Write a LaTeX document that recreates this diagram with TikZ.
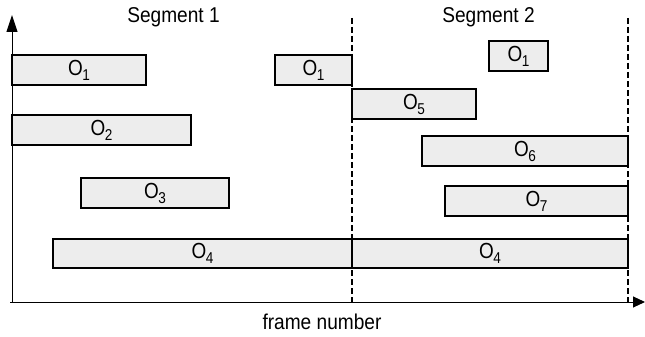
\documentclass[tikz,border=0pt]{standalone}
\usepackage{fontspec}
\setmainfont{Liberation Sans}
\usetikzlibrary{arrows.meta}
\newcommand{\objlab}[1]{\scalebox{0.97}[1.12]{O\kern-0.6pt\raisebox{-4.5pt}{\fontsize{14}{14}\selectfont #1}}}
\newcommand{\captext}[1]{\scalebox{0.98}[1.1]{#1}}
\tikzset{
  obj/.style={draw=black, line width=1.2pt, fill=black!7, inner sep=0pt,
    minimum height=30pt, font=\fontsize{19.5}{22}\selectfont},
  axisline/.style={line width=1pt},
  segline/.style={line width=1.2pt, dash pattern=on 6pt off 3pt},
  caption/.style={font=\fontsize{19.5}{22}\selectfont, anchor=base, inner sep=0pt}
}
\begin{document}
\begin{tikzpicture}[x=1pt, y=-1pt]
\useasboundingbox (0,0) rectangle (645,337);

% axes
\coordinate (orig) at (12,302);
\coordinate (ytop) at (12,15);
\coordinate (xstart) at (10,302);
\coordinate (xend) at (645,302);
\draw[axisline, -{Triangle[length=17pt,width=11pt]}] (orig) -- (ytop);
\draw[axisline, -{Triangle[length=12pt,width=11pt]}] (xstart) -- (xend);

% segment boundaries
\coordinate (b1top) at (352,18);
\coordinate (b1bot) at (352,304);
\coordinate (b2top) at (628,18);
\coordinate (b2bot) at (628,302);
\draw[segline] (b1top) -- (b1bot);
\draw[segline] (b2top) -- (b2bot);

% object tracks
\node[obj, minimum width=134pt] (o1a) at (79,70) {\objlab{1}};
\node[obj, minimum width=179pt] (o2) at (101.5,130) {\objlab{2}};
\node[obj, minimum width=77pt] (o1b) at (313.5,70) {\objlab{1}};
\node[obj, minimum width=59pt] (o1c) at (518.5,56) {\objlab{1}};
\node[obj, minimum width=124pt] (o5) at (414,104) {\objlab{5}};
\node[obj, minimum width=206pt] (o6) at (525,151) {\objlab{6}};
\node[obj, minimum width=148pt] (o3) at (155,193) {\objlab{3}};
\node[obj, minimum width=183pt] (o7) at (536.5,201) {\objlab{7}};
\node[obj, minimum width=299pt, minimum height=29pt] (o4a) at (202.5,253.5) {\objlab{4}};
\node[obj, minimum width=276pt, minimum height=29pt] (o4b) at (490,253.5) {\objlab{4}};

% captions
\node[caption] (seg1) at (173.5,23) {\captext{Segment 1}};
\node[caption] (seg2) at (488.5,23) {\captext{Segment 2}};
\node[caption] (xlab) at (322,329) {\captext{frame number}};
\end{tikzpicture}
\end{document}
